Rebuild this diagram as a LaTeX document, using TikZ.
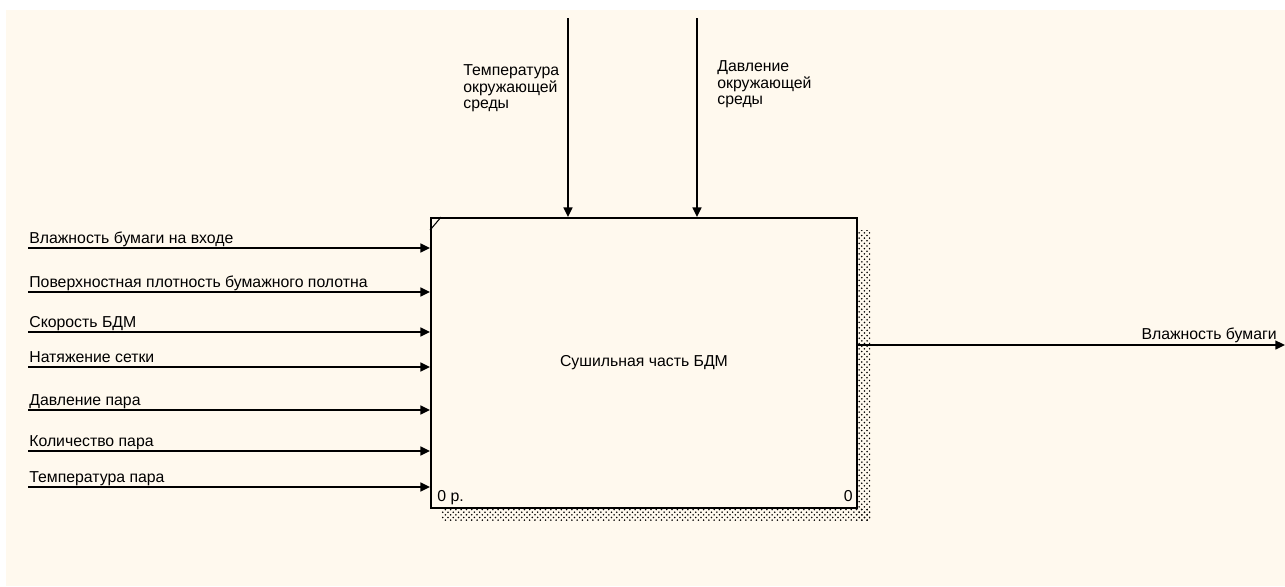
\documentclass[tikz,border=0pt]{standalone}
\usepackage{fontspec}
\setmainfont{Liberation Sans}
\usetikzlibrary{arrows.meta, positioning, patterns, calc}
\definecolor{paper}{HTML}{FFF9EE}
\tikzset{
  func/.style  = {rectangle, draw, line width=1.1pt, fill=paper,
                  minimum width=8.52cm, minimum height=5.8cm,
                  inner sep=0pt, font=\fontsize{9}{10}\selectfont},
  lbl/.style   = {inner sep=0pt, align=left,
                  font=\fontsize{9}{9.6}\selectfont},
  arrow/.style = {-{Triangle[length=5.5pt, width=5pt]}, line width=1.1pt},
  shade/.style = {pattern=crosshatch dots, pattern color=black},
}
\begin{document}
\begin{tikzpicture}[x=0.02cm, y=-0.02cm]
  \useasboundingbox (0,0) rectangle (1285,586);
  \fill[paper] (6,10) rectangle (1285,586);
  % shadow
  \fill[shade] (441,508) rectangle (870,520);
  \fill[shade] (857,230) rectangle (870,520);
  \node[func] (box) at (644,363) {Сушильная часть БДМ};
  \draw[line width=0.6pt] ($(box.north west)+(0,13)$) -- ($(box.north west)+(11,0)$);
  \node[lbl, anchor=base west] (num) at (437,501) {0 р.};
  \node[lbl, anchor=base east] (nr) at (853,501) {0};
  % controls
  \coordinate (c1) at (568,18);
  \coordinate (c2) at (697,18);
  \node[lbl, anchor=north west] (tl) at (463,64) {Температура\\окружающей\\среды};
  \node[lbl, anchor=north west] (dl) at (717,60) {Давление\\окружающей\\среды};
  \draw[arrow] (c1) -- (c1 |- box.north);
  \draw[arrow] (c2) -- (c2 |- box.north);
  % inputs
  \foreach \n/\y/\t in {i1/248/Влажность бумаги на входе,
                        i2/292/Поверхностная плотность бумажного полотна,
                        i3/332/Скорость БДМ,
                        i4/367/Натяжение сетки,
                        i5/410/Давление пара,
                        i6/451/Количество пара,
                        i7/487/Температура пара}{
    \coordinate (\n) at (28,\y);
    \node[lbl, anchor=base west] (\n l) at ($(\n)+(1,-5)$) {\t};
    \draw[arrow] (\n) -- (\n -| box.west);
  }
  % output
  \coordinate (o1) at (1285,345);
  \node[lbl, anchor=base east] (ol) at (1277,339) {Влажность бумаги};
  \draw[arrow] (o1 -| box.east) -- (o1);
\end{tikzpicture}
\end{document}
